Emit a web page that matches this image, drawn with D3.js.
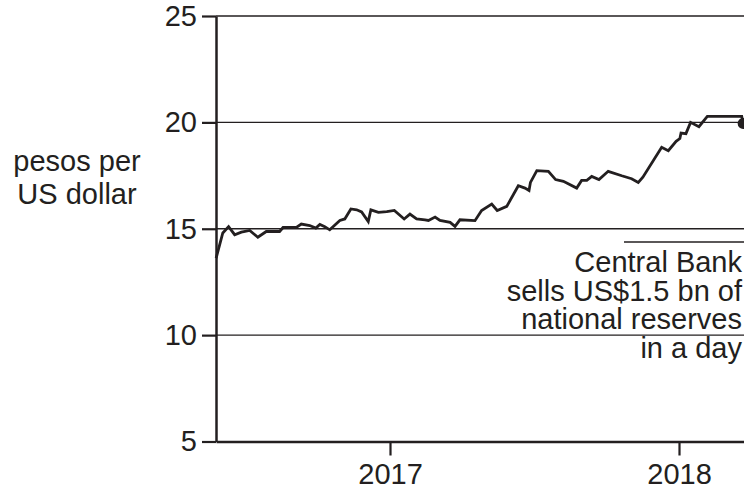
<!DOCTYPE html>
<html>
<head>
<meta charset="utf-8">
<script src="https://cdn.jsdelivr.net/npm/d3@7"></script>
<style>
  html, body { margin: 0; padding: 0; background: #fff; overflow: hidden; }
  svg { display: block; font-family: "Liberation Sans", Arial, Helvetica, sans-serif; }
</style>
</head>
<body>
<svg id="chart" width="744" height="489"></svg>
<script>
// ---- data (dates as decimal years, values in pesos per US dollar) ----
const dates = [
  2016.400, 2016.423, 2016.443, 2016.464, 2016.487, 2016.516, 2016.544, 2016.573,
  2016.619, 2016.631, 2016.677, 2016.694, 2016.723, 2016.744, 2016.758, 2016.775,
  2016.792, 2016.827, 2016.844, 2016.865, 2016.885, 2016.902, 2016.925, 2016.934,
  2016.960, 2016.989, 2017.015, 2017.049, 2017.069, 2017.092, 2017.121, 2017.133,
  2017.156, 2017.173, 2017.208, 2017.225, 2017.242, 2017.294, 2017.317, 2017.352,
  2017.371, 2017.404, 2017.444, 2017.467, 2017.481, 2017.486, 2017.508, 2017.548,
  2017.573, 2017.600, 2017.646, 2017.663, 2017.681, 2017.698, 2017.723, 2017.755,
  2017.802, 2017.836, 2017.859, 2017.875, 2017.940, 2017.963, 2017.990, 2018.003,
  2018.007, 2018.024, 2018.040, 2018.069, 2018.098, 2018.217, 2018.222
];
const pesos = [
  13.62, 14.80, 15.10, 14.72, 14.84, 14.92, 14.60, 14.87,
  14.87, 15.06, 15.06, 15.22, 15.15, 15.03, 15.20, 15.10,
  14.95, 15.39, 15.46, 15.93, 15.89, 15.79, 15.34, 15.89,
  15.77, 15.80, 15.86, 15.46, 15.69, 15.46, 15.42, 15.39,
  15.55, 15.39, 15.30, 15.11, 15.42, 15.38, 15.86, 16.16,
  15.86, 16.05, 17.02, 16.91, 16.80, 17.18, 17.73, 17.70,
  17.31, 17.23, 16.91, 17.27, 17.27, 17.46, 17.31, 17.70,
  17.49, 17.35, 17.18, 17.42, 18.83, 18.67, 19.11, 19.24,
  19.50, 19.47, 20.00, 19.80, 20.28, 20.28, 19.95
];
const yTicks = [5, 10, 15, 20, 25];
const gridValues = [10, 15, 20, 25];
const xTickYears = [2017, 2018];
const yLabelLines = ["pesos per", "US dollar"];
const noteLines = ["Central Bank", "sells US$1.5 bn of", "national reserves", "in a day"];

// ---- helpers ----
function yearToDate(d) {
  const y = Math.floor(d);
  const s = Date.UTC(y, 0, 1), e = Date.UTC(y + 1, 0, 1);
  return new Date(s + (d - y) * (e - s));
}
const data = dates.map((d, i) => ({ date: yearToDate(d), value: pesos[i] }));

const ink = "#231f20";
const fontSize = 29;

const svg = d3.select("#chart");

// x scale: 2017 at 390px, 2018 at 679px, axis runs from 216px off the right edge
const xRef = d3.scaleUtc()
  .domain([new Date(Date.UTC(2017, 0, 1)), new Date(Date.UTC(2018, 0, 1))])
  .range([390, 679]);
const xLeft = 216, xRight = 780;
const x = d3.scaleUtc()
  .domain([xRef.invert(xLeft), xRef.invert(xRight)])
  .range([xLeft, xRight]);

const y = d3.scaleLinear().domain([5, 25]).range([441.5, 16]);

// gridlines
svg.append("g")
  .selectAll("line")
  .data(gridValues)
  .join("line")
  .attr("x1", xLeft).attr("x2", xRight)
  .attr("y1", d => y(d)).attr("y2", d => y(d))
  .attr("stroke", ink).attr("stroke-width", 1.4);

// y axis
const yAxis = svg.append("g")
  .attr("transform", `translate(${xLeft},0)`)
  .call(d3.axisLeft(y).tickValues(yTicks).tickSize(14).tickPadding(5).tickSizeOuter(0));
yAxis.select(".domain").attr("stroke", ink).attr("stroke-width", 2.5);
yAxis.selectAll(".tick line").attr("stroke", ink).attr("stroke-width", 2.2);
yAxis.selectAll(".tick text")
  .attr("fill", ink)
  .style("font-size", fontSize + "px")
  .style("font-family", "Liberation Sans, Arial, sans-serif");

// x axis
const xAxis = svg.append("g")
  .attr("transform", `translate(0,${y(5)})`)
  .call(d3.axisBottom(x)
    .tickValues(xTickYears.map(yr => new Date(Date.UTC(yr, 0, 1))))
    .tickFormat(d3.utcFormat("%Y"))
    .tickSize(14).tickPadding(8).tickSizeOuter(0));
xAxis.select(".domain").attr("stroke", ink).attr("stroke-width", 2.5);
xAxis.selectAll(".tick line").attr("stroke", ink).attr("stroke-width", 2.2);
xAxis.selectAll(".tick text")
  .attr("fill", ink)
  .style("font-size", fontSize + "px")
  .style("font-family", "Liberation Sans, Arial, sans-serif");

// line
const line = d3.line().x(d => x(d.date)).y(d => y(d.value));
svg.append("path")
  .datum(data)
  .attr("fill", "none")
  .attr("stroke", ink)
  .attr("stroke-width", 2.8)
  .attr("stroke-linejoin", "miter")
  .attr("d", line);

// end dot
const last = data[data.length - 1];
svg.append("circle")
  .attr("cx", x(last.date)).attr("cy", y(last.value))
  .attr("r", 5.5).attr("fill", ink);

// y label
svg.append("text")
  .attr("text-anchor", "middle")
  .attr("fill", ink)
  .style("font-size", fontSize + "px")
  .selectAll("tspan")
  .data(yLabelLines)
  .join("tspan")
  .attr("x", 77)
  .attr("y", (d, i) => 171 + i * 32.5)
  .text(d => d);

// annotation
svg.append("line")
  .attr("x1", 624).attr("x2", xRight)
  .attr("y1", 242).attr("y2", 242)
  .attr("stroke", ink).attr("stroke-width", 1.4);
svg.append("text")
  .attr("text-anchor", "end")
  .attr("fill", ink)
  .style("font-size", fontSize + "px")
  .selectAll("tspan")
  .data(noteLines)
  .join("tspan")
  .attr("x", 742)
  .attr("y", (d, i) => 272 + i * 28.7)
  .text(d => d);
</script>
</body>
</html>
